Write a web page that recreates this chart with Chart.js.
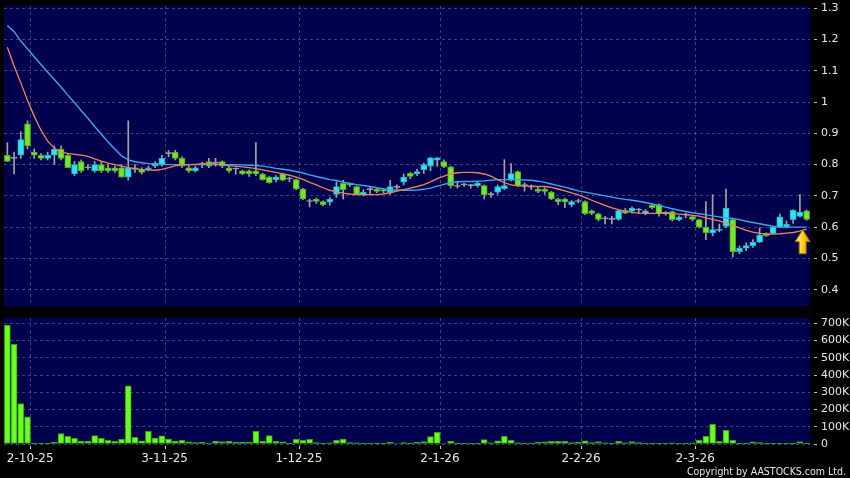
<!DOCTYPE html>
<html>
<head>
<meta charset="utf-8">
<script src="https://cdn.jsdelivr.net/npm/chart.js@4.4.1/dist/chart.umd.min.js"></script>
<style>
  html, body { margin: 0; padding: 0; background: #000; }
  #wrap { position: relative; width: 850px; height: 478px; overflow: hidden; background: #000; }
  #priceChart { position: absolute; left: 0; top: 0; }
  #volChart { position: absolute; left: 0; top: 310px; }
  #copy { position: absolute; right: 4px; top: 465px; line-height: 12px; color: #e6e6e6;
          font-family: "DejaVu Sans Condensed", "Liberation Sans", sans-serif; font-size: 10.5px; }
</style>
</head>
<body>
<div id="wrap">
  <canvas id="priceChart" width="850" height="313"></canvas>
  <canvas id="volChart" width="850" height="168"></canvas>
  <div id="copy">Copyright by AASTOCKS.com Ltd.</div>
</div>
<script>
// trading days (d-m-yy)
var dates = [
  '25-9-25','26-9-25','29-9-25','30-9-25',
  '2-10-25','3-10-25','6-10-25','8-10-25','9-10-25','10-10-25','13-10-25','14-10-25','15-10-25','16-10-25',
  '17-10-25','20-10-25','21-10-25','22-10-25','23-10-25','24-10-25','27-10-25','28-10-25','30-10-25','31-10-25',
  '3-11-25','4-11-25','5-11-25','6-11-25','7-11-25','10-11-25','11-11-25','12-11-25','13-11-25','14-11-25',
  '17-11-25','18-11-25','19-11-25','20-11-25','21-11-25','24-11-25','25-11-25','26-11-25','27-11-25','28-11-25',
  '1-12-25','2-12-25','3-12-25','4-12-25','5-12-25','8-12-25','9-12-25','10-12-25','11-12-25','12-12-25',
  '15-12-25','16-12-25','17-12-25','18-12-25','19-12-25','22-12-25','23-12-25','24-12-25','29-12-25','30-12-25','31-12-25',
  '2-1-26','5-1-26','6-1-26','7-1-26','8-1-26','9-1-26','12-1-26','13-1-26','14-1-26','15-1-26','16-1-26',
  '19-1-26','20-1-26','21-1-26','22-1-26','23-1-26','26-1-26','27-1-26','28-1-26','29-1-26','30-1-26',
  '2-2-26','3-2-26','4-2-26','5-2-26','6-2-26','9-2-26','10-2-26','11-2-26','12-2-26','13-2-26',
  '16-2-26','20-2-26','23-2-26','24-2-26','25-2-26','26-2-26','27-2-26',
  '2-3-26','3-3-26','4-3-26','5-3-26','6-3-26','9-3-26','10-3-26','11-3-26','12-3-26','13-3-26',
  '16-3-26','17-3-26','18-3-26','19-3-26','20-3-26','23-3-26','24-3-26'
];

var tickLabels = ['2-10-25', '3-11-25', '1-12-25', '2-1-26', '2-2-26', '2-3-26'];
var priceTicks = [0.4, 0.5, 0.6, 0.7, 0.8, 0.9, 1.0, 1.1, 1.2, 1.3];
var volTicks = [0, 100000, 200000, 300000, 400000, 500000, 600000, 700000];

var openP = [
  0.83,0.82,0.83,0.93,0.84,0.83,0.82,0.83,0.85,0.83,
  0.77,0.81,0.79,0.78,0.80,0.79,0.79,0.79,0.76,0.79,
  0.785,0.785,0.795,0.80,0.835,0.84,0.82,0.79,0.78,0.80,
  0.81,0.805,0.81,0.79,0.786,0.78,0.78,0.78,0.77,0.76,
  0.752,0.77,0.754,0.752,0.722,0.682,0.69,0.682,0.68,0.705,
  0.74,0.74,0.73,0.704,0.72,0.722,0.72,0.712,0.727,0.744,
  0.772,0.77,0.784,0.795,0.814,0.81,0.793,0.73,0.735,0.733,
  0.733,0.733,0.704,0.712,0.723,0.75,0.778,0.733,0.728,0.722,
  0.722,0.712,0.69,0.69,0.672,0.682,0.682,0.652,0.643,0.627,
  0.625,0.625,0.653,0.651,0.655,0.644,0.67,0.672,0.644,0.65,
  0.624,0.638,0.634,0.624,0.60,0.582,0.59,0.602,0.624,0.522,
  0.533,0.541,0.552,0.58,0.58,0.60,0.601,0.624,0.634,0.652
];
var highP = [
  0.87,0.84,0.905,0.94,0.85,0.835,0.84,0.86,0.86,0.835,
  0.81,0.815,0.80,0.81,0.81,0.80,0.795,0.80,0.94,0.80,
  0.79,0.795,0.81,0.83,0.845,0.846,0.825,0.797,0.795,0.807,
  0.82,0.82,0.812,0.795,0.79,0.782,0.783,0.87,0.772,0.762,
  0.765,0.773,0.76,0.754,0.724,0.69,0.693,0.684,0.695,0.745,
  0.75,0.742,0.732,0.72,0.73,0.724,0.722,0.75,0.735,0.77,
  0.775,0.785,0.805,0.823,0.823,0.815,0.795,0.745,0.74,0.737,
  0.745,0.735,0.712,0.735,0.816,0.803,0.78,0.742,0.735,0.728,
  0.726,0.714,0.692,0.693,0.685,0.69,0.684,0.655,0.645,0.635,
  0.635,0.655,0.66,0.665,0.66,0.656,0.675,0.675,0.65,0.652,
  0.636,0.645,0.638,0.626,0.682,0.704,0.61,0.722,0.626,0.54,
  0.55,0.56,0.598,0.582,0.602,0.642,0.62,0.656,0.704,0.655
];
var lowP = [
  0.81,0.77,0.82,0.85,0.82,0.815,0.815,0.80,0.815,0.79,
  0.765,0.775,0.785,0.775,0.775,0.775,0.775,0.76,0.75,0.775,
  0.77,0.78,0.79,0.795,0.825,0.815,0.79,0.775,0.776,0.79,
  0.79,0.795,0.79,0.775,0.77,0.768,0.762,0.765,0.75,0.74,
  0.745,0.748,0.745,0.72,0.688,0.665,0.676,0.668,0.67,0.695,
  0.69,0.73,0.703,0.70,0.704,0.71,0.71,0.705,0.72,0.735,
  0.755,0.765,0.772,0.78,0.795,0.79,0.725,0.725,0.73,0.725,
  0.728,0.69,0.695,0.705,0.72,0.748,0.73,0.715,0.72,0.71,
  0.705,0.688,0.672,0.662,0.665,0.678,0.64,0.64,0.62,0.61,
  0.61,0.622,0.643,0.645,0.643,0.64,0.658,0.635,0.638,0.62,
  0.62,0.63,0.62,0.598,0.56,0.572,0.585,0.598,0.505,0.515,
  0.525,0.535,0.55,0.57,0.578,0.598,0.598,0.612,0.632,0.622
];
var closeP = [
  0.81,0.82,0.88,0.86,0.83,0.82,0.83,0.85,0.82,0.79,
  0.80,0.78,0.79,0.80,0.78,0.78,0.78,0.76,0.79,0.785,
  0.775,0.79,0.805,0.82,0.835,0.82,0.795,0.78,0.79,0.80,
  0.795,0.805,0.795,0.78,0.786,0.77,0.77,0.77,0.752,0.742,
  0.76,0.75,0.754,0.722,0.69,0.682,0.682,0.672,0.69,0.73,
  0.72,0.735,0.705,0.712,0.72,0.714,0.715,0.73,0.727,0.76,
  0.762,0.778,0.80,0.822,0.822,0.793,0.733,0.73,0.735,0.733,
  0.741,0.704,0.704,0.73,0.733,0.771,0.733,0.733,0.728,0.714,
  0.714,0.69,0.681,0.681,0.682,0.682,0.643,0.644,0.625,0.627,
  0.625,0.653,0.645,0.661,0.655,0.652,0.662,0.643,0.644,0.624,
  0.632,0.638,0.625,0.60,0.582,0.592,0.592,0.661,0.522,0.533,
  0.541,0.552,0.575,0.573,0.60,0.633,0.61,0.654,0.648,0.625
];

// short (orange) and long (blue) moving averages as drawn
var maShort = [
  1.175,1.115,1.062,1.005,0.955,0.91,0.875,0.852,0.84,0.836,
  0.833,0.83,0.826,0.818,0.811,0.805,0.80,0.795,0.79,0.787,
  0.784,0.783,0.782,0.785,0.79,0.796,0.799,0.80,0.801,0.802,
  0.803,0.802,0.80,0.797,0.795,0.793,0.79,0.787,0.783,0.779,
  0.775,0.77,0.766,0.76,0.753,0.743,0.735,0.726,0.718,0.713,
  0.709,0.706,0.704,0.704,0.704,0.704,0.706,0.71,0.715,0.72,
  0.725,0.73,0.736,0.745,0.755,0.763,0.77,0.774,0.775,0.775,
  0.774,0.77,0.763,0.752,0.742,0.735,0.732,0.731,0.731,0.73,
  0.73,0.727,0.722,0.716,0.71,0.703,0.695,0.686,0.678,0.67,
  0.662,0.656,0.651,0.647,0.645,0.644,0.644,0.644,0.644,0.643,
  0.642,0.64,0.638,0.635,0.63,0.625,0.62,0.613,0.606,0.598,
  0.59,0.584,0.58,0.578,0.578,0.579,0.581,0.583,0.587,0.594
];
var maLong = [
  1.245,1.225,1.195,1.17,1.145,1.12,1.095,1.072,1.048,1.022,
  0.998,0.972,0.948,0.922,0.897,0.872,0.85,0.828,0.815,0.809,
  0.806,0.803,0.801,0.80,0.80,0.80,0.80,0.80,0.80,0.80,
  0.80,0.80,0.80,0.80,0.80,0.799,0.798,0.797,0.795,0.792,
  0.788,0.785,0.782,0.778,0.773,0.767,0.762,0.757,0.752,0.749,
  0.744,0.74,0.736,0.733,0.73,0.726,0.723,0.72,0.718,0.718,
  0.718,0.719,0.721,0.725,0.731,0.737,0.742,0.745,0.746,0.746,
  0.747,0.748,0.75,0.752,0.752,0.752,0.752,0.751,0.75,0.747,
  0.743,0.738,0.733,0.728,0.722,0.716,0.712,0.708,0.704,0.70,
  0.696,0.692,0.689,0.686,0.683,0.679,0.674,0.669,0.664,0.659,
  0.654,0.65,0.646,0.643,0.64,0.636,0.633,0.63,0.628,0.624,
  0.619,0.615,0.611,0.607,0.603,0.60,0.60,0.60,0.60,0.60
];

var volume = [
  690000,578000,235000,157000,5000,2000,2000,10000,60000,45000,
  33000,17000,17000,49000,33000,21000,15000,27000,337000,39000,
  19000,74000,35000,47000,29000,17000,21000,12000,8000,10000,
  6000,17000,14000,15000,10000,10000,10000,74000,17000,49000,
  15000,12000,5000,27000,21000,27000,8000,5000,7000,21000,
  29000,8000,7000,5000,5000,5000,5000,10000,3000,8000,
  5000,10000,14000,43000,68000,3000,17000,5000,2000,2000,
  2000,25000,7000,19000,45000,21000,7000,5000,5000,10000,
  12000,15000,15000,15000,8000,10000,19000,8000,14000,7000,
  2000,15000,7000,14000,8000,5000,2000,1000,2000,7000,
  4000,2000,7000,21000,45000,114000,15000,80000,21000,2000,
  1000,12000,8000,2000,2000,4000,4000,2000,14000,2000
];

// buy signal arrow under the last candle
var signalIndex = 119;
var signalTop = 0.592;
var signalBottom = 0.515;

var navy = '#00004c';
var gridColor = 'rgba(140,140,190,0.45)';
var labelColor = '#e6e6e6';
Chart.defaults.font.family = 'DejaVu Sans';

function monthGrid(ctx) {
  return tickLabels.indexOf(dates[ctx.index]) >= 0 ? gridColor : 'rgba(0,0,0,0)';
}
function monthTick(ctx) {
  return tickLabels.indexOf(dates[ctx.index]) >= 0 ? '#d0d0d0' : 'rgba(0,0,0,0)';
}

var plotBg = {
  id: 'plotBg',
  beforeDraw: function(chart) {
    var a = chart.chartArea;
    chart.ctx.save();
    chart.ctx.fillStyle = navy;
    chart.ctx.fillRect(a.left, a.top, a.right - a.left, a.bottom - a.top);
    chart.ctx.restore();
  }
};

var signalArrow = {
  id: 'signalArrow',
  afterDatasetsDraw: function(chart) {
    var ctx = chart.ctx;
    var cx = chart.scales.x.getPixelForValue(signalIndex) - 4;
    var top = chart.scales.y.getPixelForValue(signalTop);
    var bottom = chart.scales.y.getPixelForValue(signalBottom);
    var headH = 12, headW = 7.5, shaftW = 3.5;
    ctx.save();
    var g = ctx.createLinearGradient(cx - headW, 0, cx + headW, 0);
    g.addColorStop(0, '#fff3a0');
    g.addColorStop(0.5, '#ffd01c');
    g.addColorStop(1, '#d99a00');
    ctx.beginPath();
    ctx.moveTo(cx, top);
    ctx.lineTo(cx + headW, top + headH);
    ctx.lineTo(cx + shaftW, top + headH);
    ctx.lineTo(cx + shaftW, bottom);
    ctx.lineTo(cx - shaftW, bottom);
    ctx.lineTo(cx - shaftW, top + headH);
    ctx.lineTo(cx - headW, top + headH);
    ctx.closePath();
    ctx.fillStyle = g;
    ctx.fill();
    ctx.strokeStyle = '#9a7000';
    ctx.lineWidth = 1;
    ctx.stroke();
    ctx.restore();
  }
};

function candleChart() {
  var bodies = [], wicks = [], fills = [], edges = [];
  for (var i = 0; i < dates.length; i++) {
    var o = openP[i], c = closeP[i];
    bodies.push([Math.min(o, c), Math.max(o, c)]);
    wicks.push([lowP[i], highP[i]]);
    if (c > o) { fills.push('#35e3f0'); edges.push('#1fb4c4'); }
    else if (c < o) { fills.push('#74e62c'); edges.push('#4caa18'); }
    else { fills.push('#a6a6a6'); edges.push('#a6a6a6'); }
  }

  new Chart('priceChart', {
    type: 'bar',
    data: {
      labels: dates,
      datasets: [
        { type: 'line', data: maShort, borderColor: '#e8865a', borderWidth: 1.3, pointRadius: 0, order: 0 },
        { type: 'line', data: maLong, borderColor: '#3ea4ee', borderWidth: 1.4, pointRadius: 0, order: 0 },
        { data: bodies, backgroundColor: fills, borderColor: edges, borderWidth: 1, borderSkipped: false,
          barThickness: 6, minBarLength: 1, grouped: false, order: 1 },
        { data: wicks, backgroundColor: '#a4a4a4', barThickness: 1, grouped: false, order: 2 }
      ]
    },
    options: {
      responsive: false,
      animation: false,
      devicePixelRatio: 1,
      layout: { padding: { left: 4, top: 6, right: 0, bottom: 7 } },
      plugins: { legend: { display: false }, tooltip: { enabled: false } },
      scales: {
        x: {
          offset: true,
          grid: { offset: true, color: monthGrid, drawTicks: false },
          border: { display: false, dash: [3, 3] },
          ticks: { display: false, autoSkip: false, maxRotation: 0, minRotation: 0 },
          afterFit: function(s) { s.height = 0; s.paddingLeft = 0; s.paddingRight = 0; }
        },
        y: {
          position: 'right',
          min: 0.348,
          max: 1.307,
          afterBuildTicks: function(s) { s.ticks = priceTicks.map(function(v) { return { value: v }; }); },
          ticks: {
            color: labelColor, padding: 3, font: { size: 11 },
            callback: function(v) { return String(Math.round(v * 10) / 10); }
          },
          grid: { color: gridColor, tickColor: '#bdbdbd', tickLength: 8, tickBorderDash: [0, 4, 3, 20] },
          border: { display: false, dash: [3, 3] },
          afterFit: function(s) { s.width = 40; s.paddingTop = 0; s.paddingBottom = 0; }
        }
      }
    },
    plugins: [plotBg, signalArrow]
  });
}

function volumeChart() {
  new Chart('volChart', {
    type: 'bar',
    data: {
      labels: dates,
      datasets: [{
        data: volume,
        backgroundColor: '#66ff1e',
        borderColor: '#3c9c12',
        borderWidth: 1,
        borderSkipped: false,
        barThickness: 6
      }]
    },
    options: {
      responsive: false,
      animation: false,
      devicePixelRatio: 1,
      layout: { padding: { left: 4, top: 8, right: 0, bottom: 0 } },
      plugins: { legend: { display: false }, tooltip: { enabled: false } },
      scales: {
        x: {
          offset: true,
          grid: { offset: true, color: monthGrid, tickColor: monthTick, tickLength: 7, tickBorderDash: [0, 2, 3, 20] },
          border: { display: false, dash: [3, 3] },
          ticks: {
            autoSkip: false, maxRotation: 0, minRotation: 0, padding: 1, labelOffset: -4,
            color: labelColor, font: { size: 12 },
            callback: function(v) { return tickLabels.indexOf(dates[v]) >= 0 ? dates[v] : ''; }
          },
          afterFit: function(s) { s.height = 34; s.paddingLeft = 0; s.paddingRight = 0; }
        },
        y: {
          position: 'right',
          min: 0,
          max: 731000,
          afterBuildTicks: function(s) { s.ticks = volTicks.map(function(v) { return { value: v }; }); },
          ticks: {
            color: labelColor, padding: 3, font: { size: 11 },
            callback: function(v) { return v === 0 ? '0' : (v / 1000) + 'K'; }
          },
          grid: { color: gridColor, tickColor: '#bdbdbd', tickLength: 8, tickBorderDash: [0, 4, 3, 20] },
          border: { display: false, dash: [3, 3] },
          afterFit: function(s) { s.width = 40; s.paddingTop = 0; s.paddingBottom = 0; }
        }
      }
    },
    plugins: [plotBg]
  });
}

candleChart();
volumeChart();
</script>
</body>
</html>
